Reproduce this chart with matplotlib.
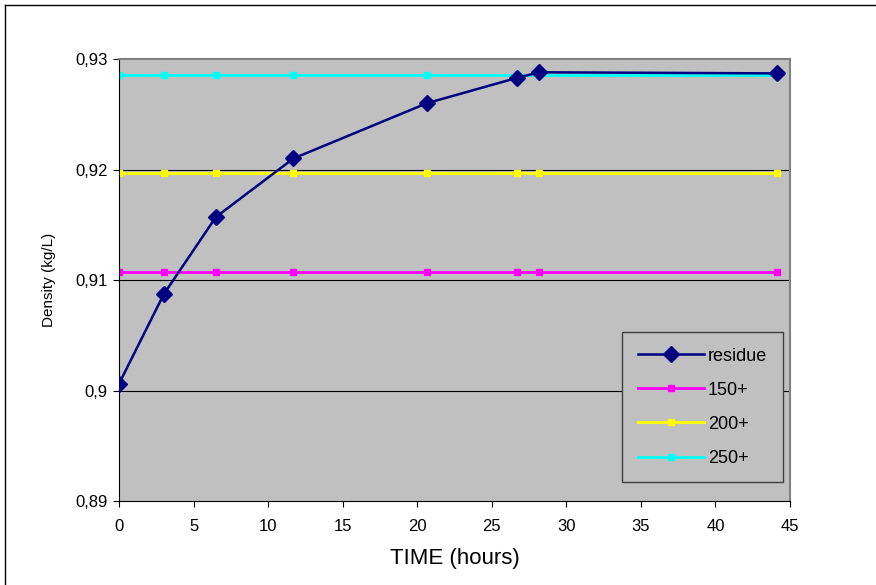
import matplotlib.pyplot as plt
from matplotlib.lines import Line2D
from matplotlib.ticker import FuncFormatter

plt.rcParams['font.family'] = ['Liberation Sans', 'DejaVu Sans']

# sampling times (hours) and measured residue density
time_h = [0, 3.0, 6.5, 11.7, 20.65, 26.7, 28.2, 44.1]
residue = [0.9006, 0.9087, 0.9157, 0.9210, 0.9260, 0.9283, 0.9288, 0.9287]

# reference densities of the cuts
cut_labels = ['150+', '200+', '250+']
cut_density = [0.9107, 0.9197, 0.92855]
cut_colors = ['#FF00FF', '#FFFF00', '#00FFFF']

fig = plt.figure(figsize=(8.76, 5.85), dpi=100)
ax = fig.add_axes([0.1358, 0.1436, 0.766, 0.7555])
ax.set_facecolor('#C0C0C0')

for d in [0.90, 0.91, 0.92]:
    ax.axhline(d, color='black', lw=0.8, zorder=1)

for lab, d, col in zip(cut_labels, cut_density, cut_colors):
    ax.plot(time_h, [d] * len(time_h), color=col, lw=2, marker='s',
            markersize=4, label=lab, zorder=2)

ax.plot(time_h, residue, color='#000080', lw=1.8, marker='D',
        markersize=8, label='residue', zorder=3)

ax.set_xlim(0, 45)
ax.set_ylim(0.89, 0.93)
ax.set_xticks(range(0, 46, 5))
ax.set_yticks([0.89, 0.90, 0.91, 0.92, 0.93])
ax.yaxis.set_major_formatter(FuncFormatter(lambda v, p: ('%g' % round(v, 3)).replace('.', ',')))
ax.tick_params(labelsize=12, length=4, width=0.8, color='black', pad=9)
ax.tick_params(axis='y', pad=4)

for s in ['top', 'right']:
    ax.spines[s].set_color('#808080')
    ax.spines[s].set_linewidth(1.5)
for s in ['left', 'bottom']:
    ax.spines[s].set_color('black')
    ax.spines[s].set_linewidth(0.8)

ax.set_xlabel('TIME (hours)', fontsize=16, labelpad=10)
ax.set_ylabel('Density (kg/L)', fontsize=11, labelpad=14)

handles = [
    Line2D([], [], color='#000080', lw=1.8, marker='D', markersize=8),
    Line2D([], [], color=cut_colors[0], lw=2, marker='s', markersize=4),
    Line2D([], [], color=cut_colors[1], lw=2, marker='s', markersize=4),
    Line2D([], [], color=cut_colors[2], lw=2, marker='s', markersize=4),
]
leg = ax.legend(handles, ['residue'] + cut_labels, loc='lower right',
                bbox_to_anchor=(0.997, 0.03), fontsize=13, frameon=True,
                fancybox=False, facecolor='#C0C0C0', edgecolor='#404040',
                framealpha=1, handlelength=3.7, labelspacing=0.95,
                borderpad=0.85, handletextpad=0.2, borderaxespad=0.3)
leg.get_frame().set_linewidth(1)

# outer chart border
fig.add_artist(Line2D([5 / 876, 5 / 876], [0, 1 - 5 / 585], color='black', lw=1))
fig.add_artist(Line2D([5 / 876, 1], [1 - 5 / 585, 1 - 5 / 585], color='black', lw=1))

fig.savefig('out.png', dpi=100)
